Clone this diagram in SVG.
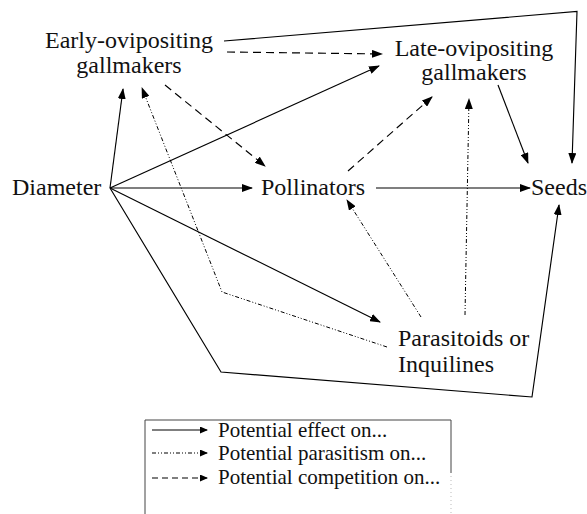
<svg xmlns="http://www.w3.org/2000/svg" width="587" height="514" viewBox="0 0 587 514">
<defs>
<marker id="ah" markerUnits="userSpaceOnUse" markerWidth="11" markerHeight="8" refX="10" refY="4" orient="auto">
<path d="M0,0 L11,4 L0,8 z" fill="#000"/>
</marker>
<marker id="ahs" markerUnits="userSpaceOnUse" markerWidth="8" markerHeight="7" refX="7" refY="3.5" orient="auto">
<path d="M0,0 L8,3.5 L0,7 z" fill="#000"/>
</marker>
</defs>
<style>
text { font-family: "Liberation Serif", "Times New Roman", serif; font-size: 24px; fill: #111; }
.leg text { font-size: 21px; }
.e { fill: none; stroke: #000; stroke-width: 1.15; marker-end: url(#ah); }
.comp { stroke-dasharray: 8 5; }
.para { stroke-dasharray: 4 2 1 2 1 2; stroke-width: 1; }
.l { fill: none; stroke: #000; stroke-width: 1.2; marker-end: url(#ahs); }
</style>
<rect width="587" height="514" fill="#fff"/>
<g id="connectors">
<line class="e" x1="110" y1="188" x2="123" y2="89"/>
<line class="e" x1="110" y1="188" x2="379" y2="66"/>
<line class="e" x1="110" y1="188" x2="252" y2="188"/>
<line class="e" x1="110" y1="188" x2="380" y2="322"/>
<polyline class="e" points="110,188 221,372 532,397 559,205"/>
<polyline class="e" points="224,41 577,11.5 572,163"/>
<line class="e" x1="376" y1="188" x2="530" y2="188"/>
<line class="e" x1="498" y1="85" x2="528" y2="163"/>
<line class="e comp" x1="227" y1="52" x2="382" y2="54"/>
<line class="e comp" x1="165" y1="85" x2="265" y2="166"/>
<line class="e comp" x1="348" y1="171" x2="432" y2="97"/>
<polyline class="e para" points="387,347 222,292 142,88"/>
<line class="e para" x1="421" y1="317" x2="347" y2="200"/>
<line class="e para" x1="465" y1="315" x2="469" y2="99"/>
</g>
<g id="early">
<text x="129" y="48" text-anchor="middle">Early-ovipositing</text>
<text x="129" y="73" text-anchor="middle">gallmakers</text>
</g>
<g id="late">
<text x="474" y="56" text-anchor="middle">Late-ovipositing</text>
<text x="474" y="80" text-anchor="middle">gallmakers</text>
</g>
<g id="diameter">
<text x="12" y="195">Diameter</text>
</g>
<g id="pollinators">
<text x="261" y="195">Pollinators</text>
</g>
<g id="seeds">
<text x="531" y="195">Seeds</text>
</g>
<g id="parasitoids">
<text x="398" y="346">Parasitoids or</text>
<text x="398" y="372">Inquilines</text>
</g>
<g id="legend" class="leg">
<path d="M145,514 V420 H451 V473" fill="none" stroke="#444" stroke-width="1"/>
<line x1="451" y1="476" x2="451" y2="514" stroke="#bbb" stroke-width="1" stroke-dasharray="1 3"/>
<line class="l" x1="152" y1="430" x2="207" y2="430"/>
<line class="l para" x1="152" y1="453" x2="207" y2="453"/>
<line class="l comp" x1="152" y1="478" x2="207" y2="478" style="stroke-dasharray:6 4"/>
<text x="218" y="437">Potential effect on...</text>
<text x="218" y="460">Potential parasitism on...</text>
<text x="218" y="484">Potential competition on...</text>
</g>
</svg>
